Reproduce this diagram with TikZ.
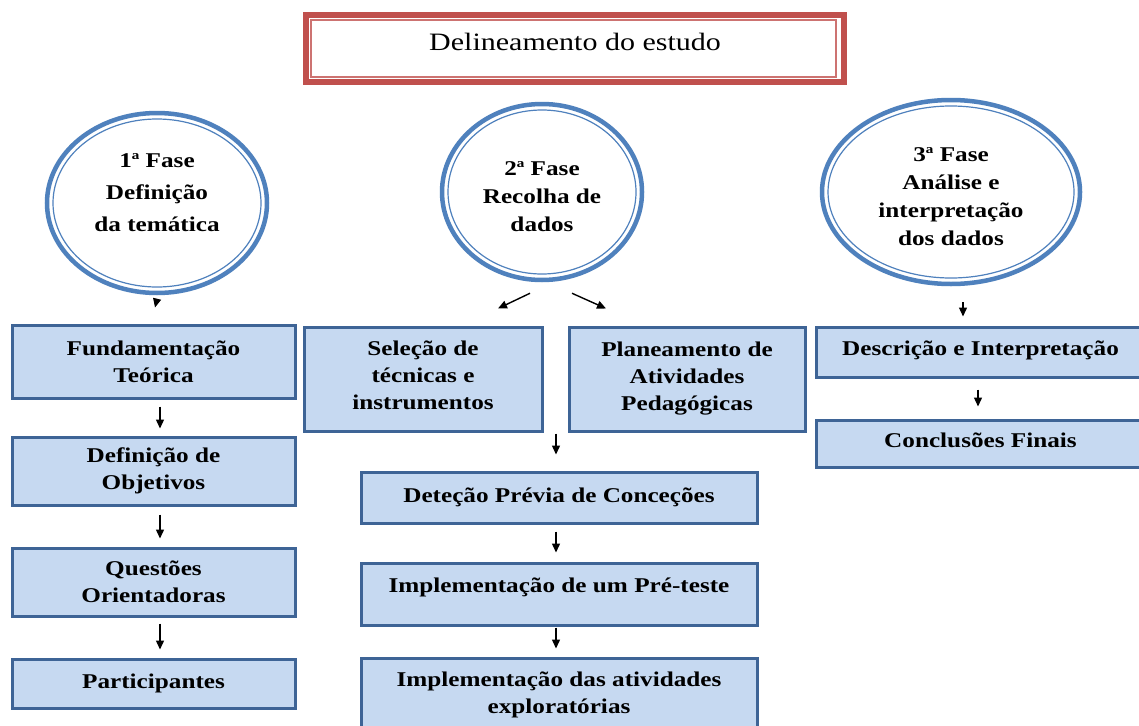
\documentclass[tikz,border=0pt]{standalone}
\usepackage{fontspec}
\setmainfont{Liberation Serif}[FakeStretch=1.2]
\usetikzlibrary{shapes.geometric,arrows.meta}
\definecolor{boxfill}{RGB}{198,217,241}
\definecolor{boxline}{RGB}{62,100,150}
\definecolor{ellline}{RGB}{79,129,189}
\definecolor{titleline}{RGB}{192,80,77}
\tikzset{
  stepbox/.style={draw=boxline, line width=3pt, fill=boxfill, rectangle, align=center,
    inner sep=0pt, font=\fontsize{21}{27}\selectfont\bfseries},
  phase/.style={draw=ellline, line width=4.5pt, fill=white, ellipse, inner sep=0pt},
  phasetext/.style={align=center, inner sep=0pt, font=\fontsize{21}{#1}\selectfont\bfseries},
  boxtext/.style={align=center, inner sep=0pt, font=\fontsize{21}{27}\selectfont\bfseries},
  innerell/.style={draw=ellline, line width=1.2pt},
  arr/.style={line width=1.4pt, -{Triangle[length=9pt,width=8pt]}},
}
\begin{document}
\begin{tikzpicture}[x=1pt,y=-1pt]
\useasboundingbox[fill=white] (0,0) rectangle (1139,725);

% title
\node[draw=titleline, line width=5.5pt, minimum width=538pt, minimum height=67pt, inner sep=0pt,
  font=\fontsize{25}{30}\selectfont] (title) at (575,48.5) {\raisebox{14pt}{Delineamento do estudo}};
\draw[titleline!80, line width=1.5pt] (311,20) rectangle (836,77);

% phases
\node[phase, minimum width=220pt, minimum height=180pt,
  label={[phasetext=32, yshift=10pt]center:1ª Fase\\Definição\\da temática}] (e1) at (157,203) {};
\draw[innerell] (e1.center) ellipse [x radius=104, y radius=84];
\node[phase, minimum width=200pt, minimum height=176pt,
  label={[phasetext=28, yshift=-5pt]center:2ª Fase\\Recolha de\\dados}] (e2) at (542,192) {};
\draw[innerell] (e2.center) ellipse [x radius=94, y radius=82];
\node[phase, minimum width=258pt, minimum height=184pt,
  label={[phasetext=28, yshift=-5pt]center:3ª Fase\\Análise e\\interpretação\\dos dados}] (e3) at (951,192) {};
\draw[innerell] (e3.center) ellipse [x radius=123, y radius=86];

% left column
\node[stepbox, minimum width=283pt, minimum height=73pt] (FT) at (153.5,361.5) {Fundamentação\\Teórica};
\node[stepbox, minimum width=283pt, minimum height=68pt] (DO) at (153.5,471) {Definição de\\Objetivos};
\node[stepbox, minimum width=283pt, minimum height=68pt] (QO) at (153.5,582) {Questões\\Orientadoras};
\node[stepbox, minimum width=283pt, minimum height=49pt] (PA) at (153.5,683.5) {Participantes};

% middle column
\node[stepbox, minimum width=238pt, minimum height=104pt,
  label={[boxtext, yshift=4pt]center:Seleção de\\técnicas e\\instrumentos}] (SE) at (423,379) {};
\node[stepbox, minimum width=236pt, minimum height=104pt] (PL) at (687,379) {Planeamento de\\Atividades\\Pedagógicas};
\node[stepbox, minimum width=396pt, minimum height=51pt] (DE) at (559,497.5) {Deteção Prévia de Conceções};
\node[stepbox, minimum width=396pt, minimum height=62pt] (PT) at (559,594) {\raisebox{18pt}{Implementação de um Pré-teste}};
\node[stepbox, minimum width=396pt, minimum height=82pt,
  label={[boxtext, yshift=4pt]center:Implementação das atividades\\exploratórias}] (IA) at (559,699) {};

% right column
\node[stepbox, minimum width=329pt, minimum height=50pt] (DI) at (980.5,352) {\raisebox{8pt}{Descrição e Interpretação}};
\node[stepbox, minimum width=329pt, minimum height=47pt] (CF) at (980.5,443.5) {\raisebox{6pt}{Conclusões Finais}};

% connectors
\draw[arr] ([shift={(0,4)}]e1.south) -- ([shift={(1.5,-16)}]FT.north);
\draw[arr] ([shift={(6.5,7)}]FT.south) -- ([shift={(6.5,-7)}]DO.north);
\draw[arr] ([shift={(6.5,8)}]DO.south) -- ([shift={(6.5,-8)}]QO.north);
\draw[arr] ([shift={(6.5,6)}]QO.south) -- ([shift={(6.5,-8)}]PA.north);

\draw[arr] ([shift={(-12,11)}]e2.south) -- ([shift={(75,-17)}]SE.north);
\draw[arr] ([shift={(30,11)}]e2.south) -- ([shift={(-81,-17)}]PL.north);
\draw[arr] ([shift={(133,1)}]SE.south) -- ([shift={(-3,-16)}]DE.north);
\draw[arr] ([shift={(-3,7)}]DE.south) -- ([shift={(-3,-9)}]PT.north);
\draw[arr] ([shift={(-3,1)}]PT.south) -- ([shift={(-3,-8)}]IA.north);

\draw[arr] ([shift={(12,16)}]e3.south) -- ([shift={(-17.5,-9)}]DI.north);
\draw[arr] ([shift={(-2.5,11)}]DI.south) -- ([shift={(-2.5,-12)}]CF.north);
\end{tikzpicture}
\end{document}
